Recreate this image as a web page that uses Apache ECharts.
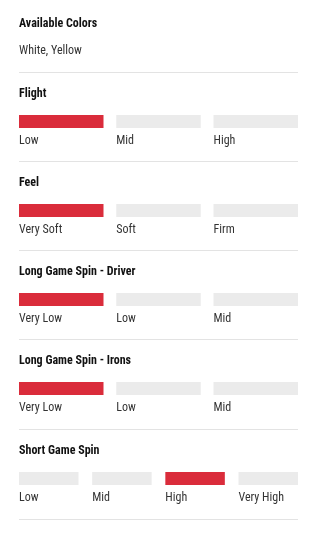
<!DOCTYPE html>
<html>
<head>
<meta charset="utf-8">
<script src="https://cdn.jsdelivr.net/npm/echarts@6/dist/echarts.min.js"></script>
<style>
  html, body { margin: 0; padding: 0; background: #fff; }
  #chart { width: 320px; height: 533px; }
</style>
</head>
<body>
<div id="chart"></div>
<script>
// ball data
const colorsTitle = 'Available Colors'
const colorsText = 'White, Yellow'
const titles = ['Flight', 'Feel', 'Long Game Spin - Driver', 'Long Game Spin - Irons', 'Short Game Spin']
const flightScale = ['Low', 'Mid', 'High']
const feelScale = ['Very Soft', 'Soft', 'Firm']
const driverSpinScale = ['Very Low', 'Low', 'Mid']
const ironsSpinScale = ['Very Low', 'Low', 'Mid']
const shortSpinScale = ['Low', 'Mid', 'High', 'Very High']
const selected = ['Low', 'Very Soft', 'Very Low', 'Very Low', 'High']

const scales = [flightScale, feelScale, driverSpinScale, ironsSpinScale, shortSpinScale]

const RED = '#da2c3b'
const GREY = '#ebebeb'
const LINE = '#e3e3e3'
const FONT = '"Liberation Sans Narrow", "Roboto Condensed", Roboto, sans-serif'

// section layout (top divider y of each section)
const sectionTop = [72, 161, 250, 339, 429]
const lastLine = 519
const x0 = 19
const x1 = 298

let myChart = echarts.init(document.getElementById('chart'), null, { renderer: 'canvas' })

let grids = []
let xAxes = []
let yAxes = []
let series = []
let graphics = [
  { type: 'text', x: x0, y: 23.5, style: { text: colorsTitle, font: 'bold 12px ' + FONT, fill: '#111', verticalAlign: 'middle' } },
  { type: 'text', x: x0, y: 50.5, style: { text: colorsText, font: '12px ' + FONT, fill: '#333', verticalAlign: 'middle' } }
]

scales.forEach((scale, i) => {
  const n = scale.length
  const gap = n === 3 ? 12.75 : 13.67
  const band = (x1 - x0 + gap) / n
  const top = sectionTop[i]
  grids.push({ left: x0 - gap / 2, width: band * n, top: top + 43, height: 13 })
  xAxes.push({ type: 'category', gridIndex: i, data: scale, show: false })
  yAxes.push({ type: 'value', gridIndex: i, min: 0, max: 1, show: false })
  series.push({
    type: 'bar',
    xAxisIndex: i,
    yAxisIndex: i,
    barWidth: band - gap,
    silent: true,
    animation: false,
    data: scale.map(s => ({ value: 1, itemStyle: { color: s === selected[i] ? RED : GREY } })),
    label: {
      show: true,
      position: [0, 25.5],
      align: 'left',
      verticalAlign: 'middle',
      formatter: p => p.name,
      fontFamily: FONT,
      fontSize: 12,
      color: '#333'
    }
  })
  graphics.push({ type: 'line', shape: { x1: x0, y1: top + 0.5, x2: x1, y2: top + 0.5 }, style: { stroke: LINE, lineWidth: 1 } })
  graphics.push({ type: 'text', x: x0, y: top + 22, style: { text: titles[i], font: 'bold 12px ' + FONT, fill: '#111', verticalAlign: 'middle' } })
})
graphics.push({ type: 'line', shape: { x1: x0, y1: lastLine + 0.5, x2: x1, y2: lastLine + 0.5 }, style: { stroke: LINE, lineWidth: 1 } })

let option = {
  backgroundColor: '#fff',
  animation: false,
  grid: grids,
  xAxis: xAxes,
  yAxis: yAxes,
  series: series,
  graphic: graphics
}
myChart.setOption(option)
</script>
</body>
</html>
